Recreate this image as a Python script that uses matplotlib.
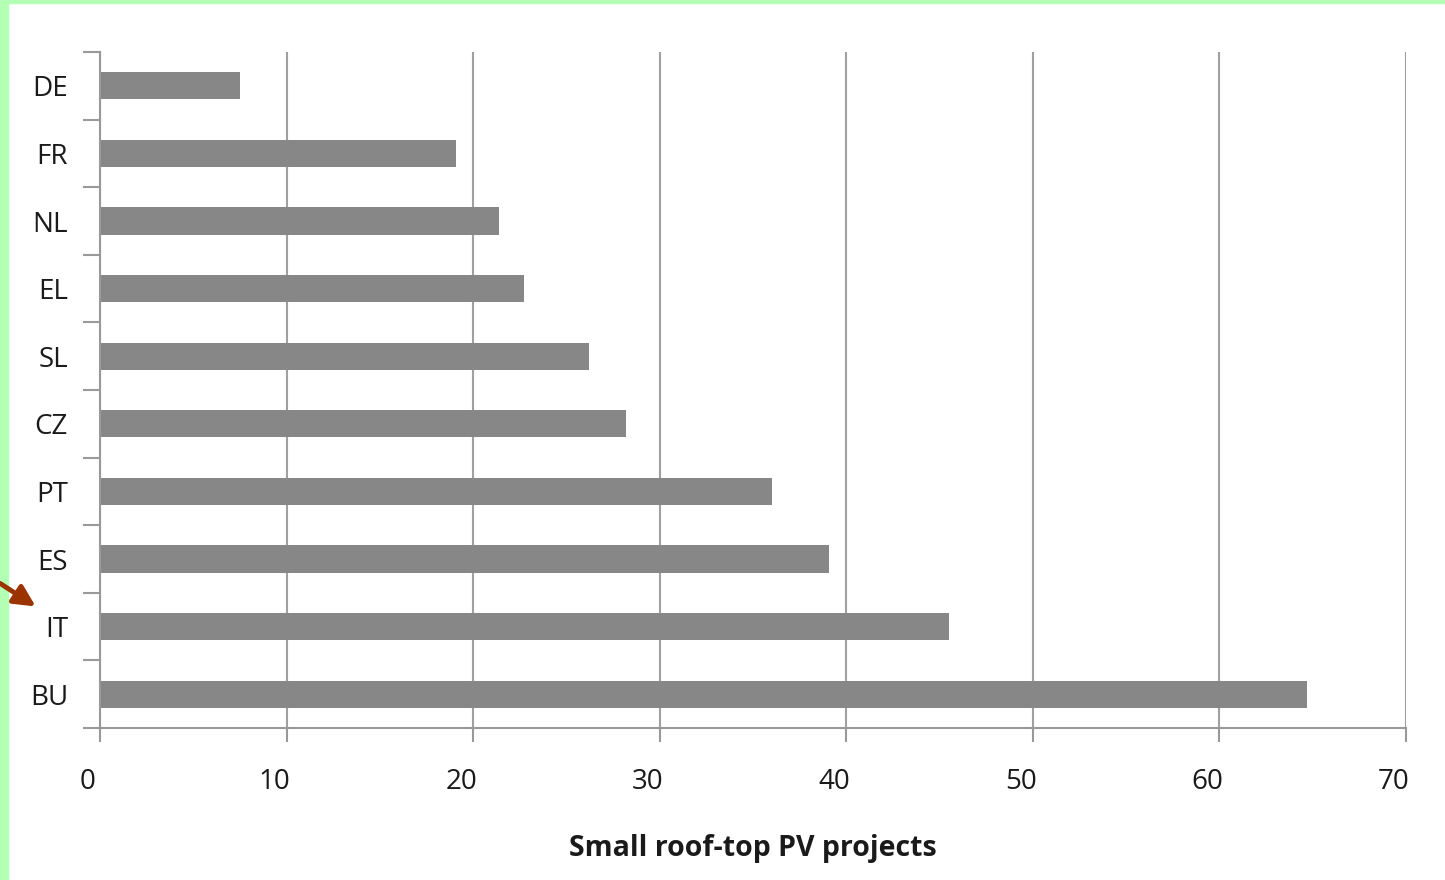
import matplotlib
matplotlib.use("Agg")

import matplotlib.pyplot as plt
import matplotlib.transforms as mtransforms
from matplotlib.patches import FancyArrowPatch, Rectangle

countries = ["DE", "FR", "NL", "EL", "SL", "CZ", "PT", "ES", "IT", "BU"]
projects = [7.5, 19.1, 21.4, 22.7, 26.2, 28.2, 36.0, 39.1, 45.5, 64.7]
x_ticks = [0, 10, 20, 30, 40, 50, 60, 70]

plt.rcParams["font.family"] = ["Open Sans", "DejaVu Sans"]

fig = plt.figure(figsize=(14.45, 8.8), dpi=100)

# light green frame on the left and top edges
fig.patches.append(Rectangle((0, 0), 8 / 1445, 1, transform=fig.transFigure,
                             color="#b3ffb3", zorder=0))
fig.patches.append(Rectangle((0, 1 - 3 / 880), 1, 3 / 880, transform=fig.transFigure,
                             color="#b3ffb3", zorder=0))

ax = fig.add_axes([100 / 1445, 1 - 728 / 880, 1306 / 1445, 676 / 880])

pos = list(range(len(countries)))
ax.barh(pos, projects, height=0.4, color="#878787", zorder=2)

ax.set_xlim(0, 70)
ax.set_ylim(len(countries) - 0.5, -0.5)
ax.set_xticks(x_ticks)
ax.set_xticklabels([str(t) for t in x_ticks], fontsize=20, color="#1a1a1a")
ax.set_yticks(pos)
ax.set_yticklabels(countries, fontsize=20, color="#1a1a1a")
ax.tick_params(axis="y", length=0, pad=23)
ax.set_yticks([p - 0.5 for p in pos] + [len(countries) - 0.5], minor=True)
ax.tick_params(axis="y", which="minor", length=12, width=1.5, color="#999999")
ax.tick_params(axis="x", length=10, width=1.5, color="#999999", pad=19)

# x labels sit a little left of their ticks
shift = mtransforms.ScaledTranslation(-12 / 100, 0, fig.dpi_scale_trans)
for lbl in ax.get_xticklabels():
    lbl.set_transform(lbl.get_transform() + shift)

ax.xaxis.grid(True, color="#a0a0a0", linewidth=1.5, zorder=1)
for side in ["top", "right"]:
    ax.spines[side].set_visible(False)
for side in ["left", "bottom"]:
    ax.spines[side].set_color("#999999")
    ax.spines[side].set_linewidth(1.5)

ax.set_xlabel("Small roof-top PV projects", fontsize=20.5, fontweight="bold",
              color="#1a1a1a", labelpad=27)

# arrow pointing at IT
arrow = FancyArrowPatch((-2 / 1445, 1 - 582 / 880), (38 / 1445, 1 - 608 / 880),
                        transform=fig.transFigure, arrowstyle="-|>",
                        mutation_scale=32, color="#9a3300", linewidth=3.5)
fig.patches.append(arrow)

fig.savefig("out.png", dpi=100, facecolor="white")
